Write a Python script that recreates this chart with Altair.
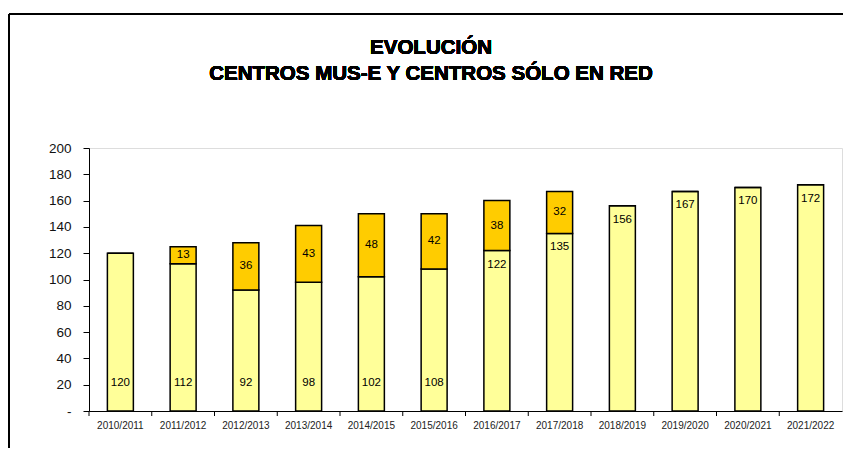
import altair as alt
import pandas as pd

years = ["2010/2011", "2011/2012", "2012/2013", "2013/2014", "2014/2015", "2015/2016",
         "2016/2017", "2017/2018", "2018/2019", "2019/2020", "2020/2021", "2021/2022"]
mus_e = [120, 112, 92, 98, 102, 108, 122, 135, 156, 167, 170, 172]
solo_red = [0, 13, 36, 43, 48, 42, 38, 32, 0, 0, 0, 0]
series = ["Centros MUS-E", "Centros sólo en red"]
colors = ["#FFFF99", "#FFCC00"]
y_ticks = [0, 20, 40, 60, 80, 100, 120, 140, 160, 180, 200]
title_lines = ["EVOLUCIÓN", "CENTROS MUS-E Y CENTROS SÓLO EN RED"]

rows = []
for i, yr in enumerate(years):
    rows.append({"year": yr, "serie": series[0], "value": mus_e[i], "ord": 0})
    rows.append({"year": yr, "serie": series[1], "value": solo_red[i], "ord": 1})
df = pd.DataFrame(rows)

lab = pd.DataFrame({"year": years, "mus": mus_e, "red": solo_red})
lab["idx"] = range(len(years))
lab["mid"] = lab["mus"] + lab["red"] / 2
lab["base"] = 21

FONT = "Liberation Sans"
W, H = 753, 263
STEP = W / len(years)

xaxis = alt.Axis(labelAngle=0, ticks=False, labelPadding=9, labelFontSize=10,
                 labelFont=FONT, labelColor="#222222", labelOverlap=False,
                 domainColor="black", title=None)
xscale = alt.Scale(paddingInner=0.586, paddingOuter=0.293)
yaxis = alt.Axis(values=y_ticks, grid=False, tickSize=6, labelPadding=12,
                 labelFontSize=13.5, labelFont=FONT, labelColor="#111111",
                 labelOverlap=False, domainColor="black", tickColor="black",
                 labelExpr="datum.value == 0 ? '-' : datum.label", title=None)
yscale = alt.Scale(domain=[0, 200], nice=False)


def X():
    return alt.X("year:N", sort=years, title=None, scale=xscale, axis=xaxis)


def Y(field):
    return alt.Y(field, scale=yscale, title=None, axis=yaxis)


bars = alt.Chart(df).mark_bar(stroke="black", strokeWidth=1.5).encode(
    x=X(),
    y=Y("sum(value):Q"),
    color=alt.Color("serie:N", scale=alt.Scale(domain=series, range=colors), legend=None),
    order=alt.Order("ord:Q"),
)

xticks = alt.Chart(lab).mark_rule(color="black", strokeWidth=1, xOffset=-STEP / 2).encode(
    x=X(),
    y=alt.value(H), y2=alt.value(H + 5),
)

txt = dict(font=FONT, fontSize=11.5, color="black", baseline="middle")

low_labels = alt.Chart(lab).transform_filter("datum.idx < 6").mark_text(**txt).encode(
    x=X(), y=Y("base:Q"), text="mus:Q",
)
high_labels = alt.Chart(lab).transform_filter("datum.idx >= 6").mark_text(dy=14, **txt).encode(
    x=X(), y=Y("mus:Q"), text="mus:Q",
)
top_labels = alt.Chart(lab).transform_filter("datum.red > 0").mark_text(**txt).encode(
    x=X(), y=Y("mid:Q"), text="red:Q",
)

tstyle = dict(font=FONT, fontSize=20.5, fontWeight="bold", color="black",
              align="center", baseline="alphabetic")
title1 = alt.Chart(lab).mark_text(**tstyle).encode(
    x=alt.value(342), y=alt.value(-94), text=alt.value(title_lines[0]))
title2 = alt.Chart(lab).mark_text(**tstyle).encode(
    x=alt.value(342), y=alt.value(-68), text=alt.value(title_lines[1]))

frame_top = alt.Chart(lab).mark_rule(color="black", strokeWidth=1).encode(
    x=alt.value(-80), x2=alt.value(W + 10), y=alt.value(-134))
frame_left = alt.Chart(lab).mark_rule(color="black", strokeWidth=1).encode(
    x=alt.value(-80), y=alt.value(-134), y2=alt.value(H + 40))

chart = alt.layer(bars, xticks, low_labels, high_labels, top_labels,
                  frame_top, frame_left, title1, title2).properties(
    width=W, height=H,
    autosize=alt.AutoSizeParams(type="none"),
    padding={"left": 81, "top": 140, "right": 1, "bottom": 37},
).configure_view(stroke="#808080", strokeWidth=1.5).configure(background="white")

chart.save("out.html", embed_options={"renderer": "svg", "actions": False})
